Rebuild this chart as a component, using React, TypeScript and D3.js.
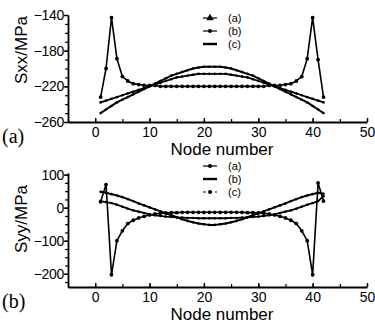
import * as d3 from 'd3';
import { useEffect, useRef } from 'react';

// node numbers along the model
const nodes = [
  1, 2, 3, 4, 5, 6, 7, 8, 9, 10, 11, 12, 13, 14, 15, 16, 17, 18, 19, 20, 21,
  22, 23, 24, 25, 26, 27, 28, 29, 30, 31, 32, 33, 34, 35, 36, 37, 38, 39, 40, 41, 42,
];

const xTicks = [0, 10, 20, 30, 40, 50];
const sxxTicks = [-260, -220, -180, -140];
const syyTicks = [-200, -100, 0, 100];
const legendLabels = ['(a)', '(b)', '(c)'];

// Sxx (top panel)
const sxxSpike = [
  -232, -200, -143, -189, -209, -214, -217, -218, -219, -219, -219, -220, -220, -220, -220, -220, -220, -220, -220, -220, -220,
  -220, -220, -220, -220, -220, -220, -220, -220, -220, -220, -219, -219, -219, -218, -217, -214, -209, -189, -143, -190, -232,
];
const sxxUpper = [
  -250, -246, -242, -238, -235, -232, -229, -226, -223, -220, -217, -214, -211, -208, -206, -204, -202, -200, -199, -198, -198,
  -198, -198, -199, -200, -202, -204, -206, -208, -211, -214, -217, -220, -223, -226, -229, -232, -235, -238, -242, -246, -250,
];
const sxxLower = [
  -238, -236, -234, -232, -230, -228, -226, -224, -222, -220, -218, -216, -214, -212, -210, -209, -208, -207, -206, -206, -206,
  -206, -206, -206, -207, -208, -209, -210, -212, -214, -216, -218, -220, -222, -224, -226, -228, -230, -232, -234, -236, -238,
];

// Syy (bottom panel)
const syySpike = [
  18, 70, -203, -100, -70, -48, -38, -31, -26, -22, -19, -17, -16, -15, -15, -14, -14, -14, -14, -14, -14,
  -14, -14, -14, -14, -14, -14, -15, -15, -16, -17, -19, -22, -26, -31, -38, -48, -70, -100, -203, 75, 20,
];
const syyOuter = [
  48, 45, 41, 37, 32, 26, 20, 13, 7, 1, -5, -11, -17, -23, -29, -35, -40, -44, -48, -50, -52,
  -52, -50, -48, -44, -40, -35, -29, -23, -17, -11, -5, 1, 7, 13, 20, 26, 32, 37, 41, 45, 42,
];
const syyInner = [
  20, 17, 14, 9, 3, -3, -8, -12, -16, -20, -23, -25, -27, -28, -29, -30, -31, -31, -32, -32, -32,
  -32, -32, -32, -31, -31, -30, -29, -28, -27, -25, -23, -20, -16, -12, -8, -3, 3, 9, 14, 20, 35,
];

const sansFont = 'Liberation Sans, Arial, sans-serif';
const serifFont = 'Liberation Serif, Times New Roman, serif';

const drawMarker = (g, kind, cx, cy, r) => {
  if (kind === 'dot') {
    g.append('circle').attr('cx', cx).attr('cy', cy).attr('r', r).attr('fill', '#000');
  } else if (kind === 'tri') {
    g.append('path')
      .attr('transform', `translate(${cx},${cy})`)
      .attr('d', d3.symbol(d3.symbolTriangle, r * r * 6)())
      .attr('fill', '#000');
  }
};

const drawPanel = (svg, x, cfg) => {
  const y = d3.scaleLinear(cfg.yDomain, cfg.yRange);
  const g = svg.append('g');
  const axisY = cfg.yRange[0];

  // y axis: minor ticks, then major with labels
  g.append('g')
    .attr('transform', `translate(${x.range()[0]},0)`)
    .call(d3.axisLeft(y).tickValues(cfg.yMinor).tickSize(3).tickFormat(() => '').tickSizeOuter(0))
    .call((a) => a.selectAll('.tick line').attr('stroke-width', 1.2));
  g.append('g')
    .attr('transform', `translate(${x.range()[0]},0)`)
    .call(d3.axisLeft(y).tickValues(cfg.yTicks).tickSize(4).tickPadding(0).tickSizeOuter(0))
    .call((a) => {
      a.select('.domain').attr('stroke-width', 1.8);
      a.selectAll('.tick line').attr('stroke-width', 1.4);
      a.selectAll('.tick text')
        .attr('font-size', 14)
        .attr('font-family', sansFont)
        .attr('letter-spacing', -0.3)
        .attr('fill', '#000');
    });

  // x axis: ticks pointing inward
  g.append('g')
    .attr('transform', `translate(0,${axisY})`)
    .call(d3.axisBottom(x).tickValues(d3.range(-5, 51, 5)).tickSize(-3).tickFormat(() => '').tickSizeOuter(0))
    .call((a) => {
      a.select('.domain').attr('stroke-width', 1.8);
      a.selectAll('.tick line').attr('stroke-width', 1.2);
    });
  g.append('g')
    .attr('transform', `translate(0,${axisY})`)
    .call(d3.axisBottom(x).tickValues(xTicks).tickSize(-4).tickPadding(5).tickSizeOuter(0))
    .call((a) => {
      a.select('.domain').remove();
      a.selectAll('.tick line').attr('stroke-width', 1.4);
      a.selectAll('.tick text')
        .attr('font-size', 14)
        .attr('font-family', sansFont)
        .attr('fill', '#000');
    });

  // series
  cfg.series.forEach((s) => {
    const line = d3
      .line()
      .x((d, i) => x(nodes[i]))
      .y((d) => y(d));
    g.append('path')
      .attr('fill', 'none')
      .attr('stroke', '#000')
      .attr('stroke-width', s.width)
      .attr('stroke-linejoin', 'round')
      .attr('d', line(s.values));
    const mg = g.append('g');
    s.values.forEach((v, i) => drawMarker(mg, s.marker, x(nodes[i]), y(v), s.r));
  });

  // legend
  const lg = g.append('g');
  legendLabels.forEach((lab, i) => {
    const ly = cfg.legendY + i * 13;
    const st = cfg.legend[i];
    lg.append('line')
      .attr('x1', 203)
      .attr('x2', 217)
      .attr('y1', ly)
      .attr('y2', ly)
      .attr('stroke', '#000')
      .attr('stroke-width', st.width)
      .attr('stroke-dasharray', st.dash || null);
    drawMarker(lg, st.marker, 210, ly, 2);
    lg.append('text')
      .attr('x', 228)
      .attr('y', ly + 4)
      .attr('font-size', 11)
      .attr('font-family', sansFont)
      .text(lab);
  });

  // titles
  g.append('text')
    .attr('transform', `translate(27,${cfg.titleY}) rotate(-90)`)
    .attr('text-anchor', 'middle')
    .attr('font-size', 17)
    .attr('font-family', sansFont)
    .text(cfg.yTitle);
  g.append('text')
    .attr('x', 222)
    .attr('y', axisY + 33)
    .attr('text-anchor', 'middle')
    .attr('font-size', 17)
    .attr('font-family', sansFont)
    .text('Node number');
  g.append('text')
    .attr('x', 2)
    .attr('y', axisY + 21)
    .attr('font-size', 20)
    .attr('font-family', serifFont)
    .text(cfg.tag);
};

const App = () => {
  const svgRef = useRef(null);

  useEffect(() => {
    const svg = d3.select(svgRef.current);
    svg.selectAll('*').remove();
    svg.append('rect').attr('width', 375).attr('height', 325).attr('fill', '#fff');

    const x = d3.scaleLinear([-5, 50], [68, 367]);

    drawPanel(svg, x, {
      yDomain: [-260, -140],
      yRange: [122, 15],
      yTicks: sxxTicks,
      yMinor: d3.range(-260, -139, 10),
      yTitle: 'Sxx/MPa',
      titleY: 50,
      tag: '(a)',
      legendY: 18,
      legend: [
        { marker: 'tri', width: 1.2 },
        { marker: 'dot', width: 1.2 },
        { marker: 'none', width: 2.4 },
      ],
      series: [
        { values: sxxUpper, marker: 'dot', r: 1.3, width: 2 },
        { values: sxxLower, marker: 'dot', r: 1.3, width: 1.8 },
        { values: sxxSpike, marker: 'dot', r: 1.9, width: 1.6 },
      ],
    });

    drawPanel(svg, x, {
      yDomain: [-240, 105],
      yRange: [287, 173],
      yTicks: syyTicks,
      yMinor: d3.range(-225, 101, 25),
      yTitle: 'Syy/MPa',
      titleY: 219,
      tag: '(b)',
      legendY: 166,
      legend: [
        { marker: 'dot', width: 1.2 },
        { marker: 'none', width: 2.4 },
        { marker: 'dot', width: 1.2, dash: '3,3' },
      ],
      series: [
        { values: syyOuter, marker: 'dot', r: 1.3, width: 2 },
        { values: syyInner, marker: 'dot', r: 1.3, width: 1.8 },
        { values: syySpike, marker: 'dot', r: 1.9, width: 1.6 },
      ],
    });
  }, []);

  return (
    <svg
      ref={svgRef}
      width={375}
      height={325}
      style={{ position: 'absolute', left: 0, top: 0, display: 'block' }}
    />
  );
};

export default App;
